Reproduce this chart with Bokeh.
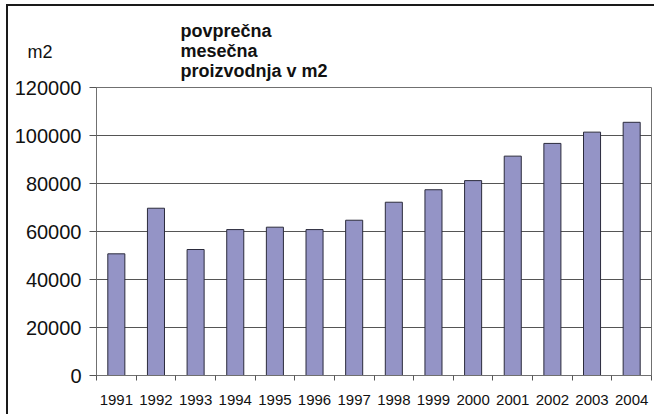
from bokeh.plotting import figure
from bokeh.models import FixedTicker, NumeralTickFormatter, Range1d, Title
from bokeh.embed import file_html
from bokeh.resources import INLINE

years = ["1991", "1992", "1993", "1994", "1995", "1996", "1997",
         "1998", "1999", "2000", "2001", "2002", "2003", "2004"]
production = [50700, 69700, 52500, 60800, 61800, 60800, 64700,
              72200, 77400, 81200, 91400, 96700, 101400, 105500]
y_ticks = [0, 20000, 40000, 60000, 80000, 100000, 120000]
title_text = "povprečna\nmesečna\nproizvodnja v m2"
unit_text = "m2"

xs = list(range(1, len(years) + 1))

p = figure(width=648, height=410, output_backend="svg", toolbar_location=None,
           x_range=Range1d(0.5, len(years) + 0.5), y_range=Range1d(0, 120000),
           min_border_left=88, min_border_right=5, min_border_top=81,
           min_border_bottom=41)
p.styles = {"margin-left": "6px", "margin-top": "4px",
            "border-left": "2px solid #1a1a1a", "border-top": "2px solid #1a1a1a"}

p.vbar(x=xs, top=production, width=0.43, fill_color="#9494c6",
       line_color="#2b2b3c", line_width=1)

p.outline_line_color = "#707070"
p.outline_line_width = 1
p.background_fill_color = "white"
p.border_fill_color = "white"

p.xgrid.grid_line_color = None
p.ygrid.grid_line_color = "#555555"
p.ygrid.grid_line_width = 1
p.ygrid.ticker = FixedTicker(ticks=y_ticks)

p.xaxis.ticker = FixedTicker(ticks=xs, minor_ticks=[i + 0.5 for i in range(0, len(years) + 1)])
p.xaxis.major_label_overrides = {x: y for x, y in zip(xs, years)}
p.xaxis.major_tick_out = 0
p.xaxis.major_tick_in = 0
p.xaxis.minor_tick_out = 5
p.xaxis.minor_tick_in = 0
p.xaxis.minor_tick_line_color = "#555555"
p.xaxis.axis_line_color = "#707070"
p.xaxis.major_label_text_font = "Liberation Sans"
p.xaxis.major_label_text_font_size = "15px"
p.xaxis.major_label_text_color = "#111111"
p.xaxis.major_label_standoff = 14

p.yaxis.ticker = FixedTicker(ticks=y_ticks)
p.yaxis.formatter = NumeralTickFormatter(format="0")
p.yaxis.major_tick_out = 7
p.yaxis.major_tick_in = 0
p.yaxis.minor_tick_line_color = None
p.yaxis.axis_line_color = "#707070"
p.yaxis.major_tick_line_color = "#555555"
p.yaxis.major_label_text_font = "Liberation Sans"
p.yaxis.major_label_text_font_size = "20px"
p.yaxis.major_label_text_color = "#111111"
p.yaxis.major_label_standoff = 8

p.add_layout(Title(text=title_text, align="left", offset=84, standoff=14,
                   text_font="Liberation Sans", text_font_style="bold",
                   text_font_size="18px", text_line_height=1.0,
                   text_color="#111111"), "above")
p.add_layout(Title(text=unit_text, align="left", offset=-69, standoff=-100,
                   vertical_align="bottom",
                   text_font="Liberation Sans", text_font_style="normal",
                   text_font_size="18px", text_color="#111111"), "above")

open("out.html", "w").write(file_html(p, INLINE))
